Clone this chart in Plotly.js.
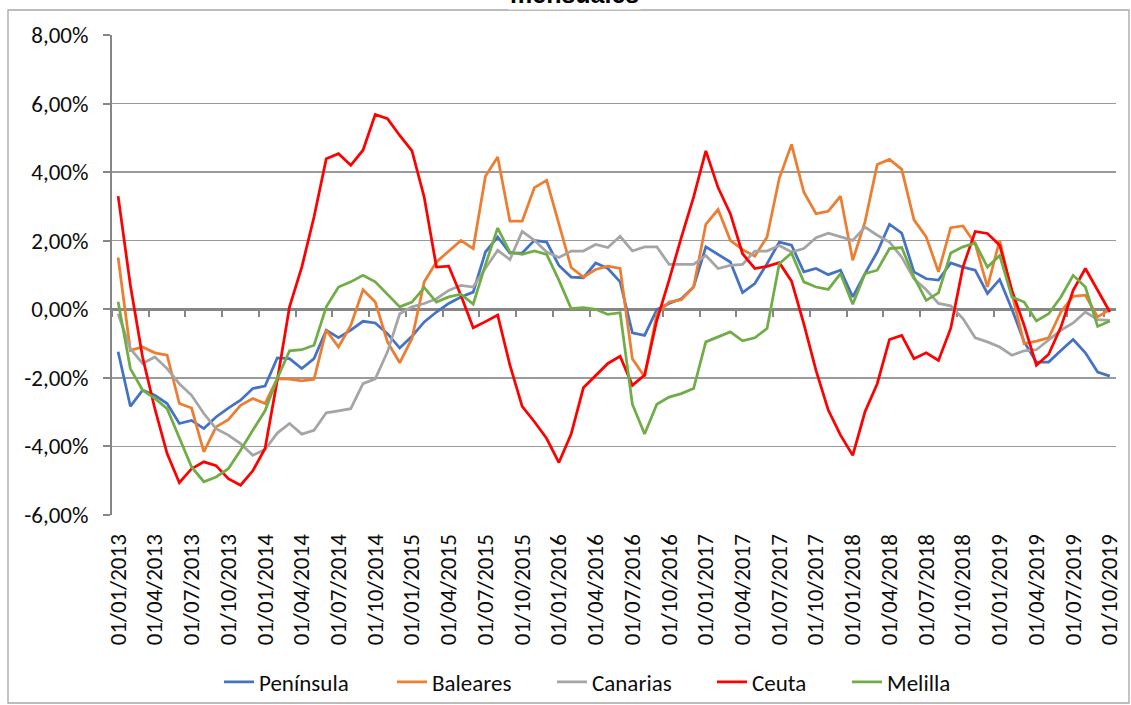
<!DOCTYPE html>
<html><head><meta charset="utf-8">
<script src="https://cdn.plot.ly/plotly-3.0.1.min.js"></script>
<style>html,body{margin:0;padding:0;background:#fff;overflow:hidden}#chart{width:1131px;height:705px;}</style>
</head><body><div id="chart"></div>
<script>
const categories = [
"01/01/2013","01/02/2013","01/03/2013","01/04/2013","01/05/2013","01/06/2013","01/07/2013","01/08/2013","01/09/2013","01/10/2013","01/11/2013","01/12/2013",
"01/01/2014","01/02/2014","01/03/2014","01/04/2014","01/05/2014","01/06/2014","01/07/2014","01/08/2014","01/09/2014","01/10/2014","01/11/2014","01/12/2014",
"01/01/2015","01/02/2015","01/03/2015","01/04/2015","01/05/2015","01/06/2015","01/07/2015","01/08/2015","01/09/2015","01/10/2015","01/11/2015","01/12/2015",
"01/01/2016","01/02/2016","01/03/2016","01/04/2016","01/05/2016","01/06/2016","01/07/2016","01/08/2016","01/09/2016","01/10/2016","01/11/2016","01/12/2016",
"01/01/2017","01/02/2017","01/03/2017","01/04/2017","01/05/2017","01/06/2017","01/07/2017","01/08/2017","01/09/2017","01/10/2017","01/11/2017","01/12/2017",
"01/01/2018","01/02/2018","01/03/2018","01/04/2018","01/05/2018","01/06/2018","01/07/2018","01/08/2018","01/09/2018","01/10/2018","01/11/2018","01/12/2018",
"01/01/2019","01/02/2019","01/03/2019","01/04/2019","01/05/2019","01/06/2019","01/07/2019","01/08/2019","01/09/2019","01/10/2019"];

const tickLabels = [
"01/01/2013","01/04/2013","01/07/2013","01/10/2013",
"01/01/2014","01/04/2014","01/07/2014","01/10/2014",
"01/01/2015","01/04/2015","01/07/2015","01/10/2015",
"01/01/2016","01/04/2016","01/07/2016","01/10/2016",
"01/01/2017","01/04/2017","01/07/2017","01/10/2017",
"01/01/2018","01/04/2018","01/07/2018","01/10/2018",
"01/01/2019","01/04/2019","01/07/2019","01/10/2019"];

const yTicks = [-6,-4,-2,0,2,4,6,8];
const yTickLabels = ["-6,00%","-4,00%","-2,00%","0,00%","2,00%","4,00%","6,00%","8,00%"];

const peninsula = [-1.24,-2.83,-2.36,-2.51,-2.75,-3.33,-3.24,-3.48,-3.14,-2.88,
-2.65,-2.31,-2.24,-1.42,-1.44,-1.73,-1.44,-0.61,-0.83,-0.61,
-0.35,-0.40,-0.71,-1.13,-0.79,-0.37,-0.08,0.17,0.36,0.50,
1.67,2.11,1.64,1.64,2.01,1.96,1.28,0.94,0.92,1.35,
1.19,0.80,-0.69,-0.76,-0.01,0.17,0.31,0.65,1.82,1.60,
1.38,0.49,0.75,1.33,1.96,1.87,1.09,1.19,1.01,1.14,
0.36,1.04,1.67,2.48,2.22,1.09,0.89,0.85,1.35,1.23,
1.14,0.46,0.87,0.00,-0.95,-1.54,-1.54,-1.20,-0.88,-1.27,
-1.83,-1.95];

const baleares = [1.51,-1.20,-1.10,-1.27,-1.34,-2.75,-2.88,-4.16,-3.43,-3.22,
-2.80,-2.60,-2.75,-2.02,-2.04,-2.09,-2.04,-0.61,-1.10,-0.47,
0.57,0.21,-0.95,-1.56,-0.85,0.80,1.38,1.70,2.01,1.77,
3.88,4.44,2.57,2.57,3.55,3.76,2.50,1.22,0.94,1.16,
1.26,1.19,-1.44,-1.97,-0.13,0.21,0.28,0.65,2.48,2.91,
2.01,1.74,1.55,2.11,3.82,4.81,3.42,2.79,2.86,3.30,
1.43,2.55,4.22,4.37,4.08,2.61,2.11,1.09,2.38,2.43,
1.91,0.65,2.01,0.45,-1.00,-0.93,-0.83,-0.08,0.38,0.41,
-0.22,-0.01];

const canarias = [-0.13,-1.15,-1.58,-1.39,-1.73,-2.17,-2.51,-3.04,-3.48,-3.67,
-3.92,-4.26,-4.09,-3.61,-3.33,-3.64,-3.53,-3.02,-2.96,-2.90,
-2.17,-2.03,-1.24,-0.13,0.07,0.17,0.31,0.55,0.70,0.65,
1.20,1.72,1.45,2.27,2.01,1.67,1.51,1.70,1.70,1.89,
1.80,2.13,1.70,1.82,1.82,1.31,1.31,1.31,1.57,1.19,
1.28,1.31,1.70,1.70,1.86,1.67,1.77,2.09,2.22,2.11,
2.01,2.40,2.16,1.96,1.52,0.89,0.57,0.17,0.10,-0.27,
-0.83,-0.95,-1.10,-1.34,-1.21,-1.18,-0.90,-0.61,-0.40,-0.08,
-0.30,-0.32];

const ceuta = [3.30,0.70,-1.40,-2.90,-4.21,-5.06,-4.65,-4.45,-4.56,-4.94,
-5.13,-4.71,-4.06,-2.07,0.07,1.23,2.69,4.39,4.54,4.20,
4.64,5.68,5.56,5.07,4.62,3.27,1.23,1.26,0.40,-0.54,
-0.36,-0.17,-1.63,-2.83,-3.28,-3.77,-4.47,-3.64,-2.29,-1.92,
-1.58,-1.37,-2.22,-1.92,-0.32,0.85,2.10,3.27,4.62,3.55,
2.79,1.62,1.19,1.25,1.36,0.82,-0.42,-1.78,-2.94,-3.67,
-4.26,-2.99,-2.17,-0.88,-0.76,-1.44,-1.27,-1.49,-0.56,1.23,
2.27,2.21,1.87,0.55,-0.47,-1.63,-1.31,-0.52,0.55,1.19,
0.55,-0.08];

const melilla = [0.22,-1.73,-2.36,-2.60,-2.90,-3.77,-4.60,-5.03,-4.89,-4.65,
-4.11,-3.53,-2.96,-2.02,-1.21,-1.18,-1.05,0.07,0.65,0.80,
0.99,0.80,0.44,0.07,0.21,0.63,0.21,0.36,0.44,0.15,
1.30,2.37,1.67,1.60,1.70,1.60,0.85,0.02,0.05,0.00,
-0.15,-0.10,-2.77,-3.64,-2.77,-2.56,-2.46,-2.31,-0.95,-0.81,
-0.66,-0.92,-0.83,-0.56,1.33,1.64,0.80,0.65,0.58,1.04,
0.15,1.04,1.14,1.77,1.80,0.94,0.26,0.48,1.64,1.82,
1.93,1.23,1.57,0.36,0.21,-0.34,-0.13,0.36,0.99,0.65,
-0.50,-0.34];

const seriesNames = ["Península","Baleares","Canarias","Ceuta","Melilla"];
const seriesValues = [peninsula, baleares, canarias, ceuta, melilla];
const seriesColors = ["#4472C4","#ED7D31","#A5A5A5","#FF0000","#70AD47"];

const FONT = 'Carlito, Lato, "Liberation Sans", sans-serif';
const FS = 23;
const AXIS_GREY = '#868686';
const TEXT = '#0d0d0d';

// legend box left edges (px) for each entry
const legendLeft = [219, 392, 552, 712, 847];
const legendIds = ['legend','legend2','legend3','legend4','legend5'];

const traces = seriesNames.map((n, k) => ({
  type: 'scatter', mode: 'lines', name: n,
  x: categories, y: seriesValues[k],
  line: {color: seriesColors[k], width: 2.75},
  legend: legendIds[k],
  hoverinfo: 'x+y+name'
}));
traces.push({type: 'scatter', mode: 'lines', x: [], y: [], xaxis: 'x2', showlegend: false, hoverinfo: 'skip'});

const nCat = categories.length;
const boundaryTicks = [];
for (let k = -0.5; k < nCat - 0.5; k += 3) boundaryTicks.push(k);

const layout = {
  width: 1131, height: 705,
  margin: {l: 112, r: 15, t: 35, b: 190, pad: 0, autoexpand: false},
  paper_bgcolor: '#ffffff', plot_bgcolor: '#ffffff',
  separators: ',.',
  font: {family: FONT, size: FS, color: TEXT},
  showlegend: true,
  xaxis: {
    type: 'category', range: [-0.5, nCat - 0.5], fixedrange: true, automargin: false,
    tickmode: 'array', tickvals: tickLabels, ticktext: tickLabels,
    tickangle: -90, ticks: 'outside', ticklen: 9, tickcolor: 'rgba(0,0,0,0)',
    showgrid: false, showline: false, zeroline: false,
    tickfont: {family: FONT, size: FS, color: TEXT}
  },
  xaxis2: {
    overlaying: 'x', anchor: 'free', position: 6 / 14, side: 'bottom',
    range: [-0.5, nCat - 0.5], fixedrange: true, automargin: false,
    tickmode: 'array', tickvals: boundaryTicks,
    ticks: 'outside', ticklen: 6, tickwidth: 2, tickcolor: AXIS_GREY,
    showline: true, linecolor: AXIS_GREY, linewidth: 2.5,
    showticklabels: false, showgrid: false, zeroline: false, layer: 'below traces'
  },
  yaxis: {
    range: [-6, 8], fixedrange: true, automargin: false,
    tickmode: 'array', tickvals: yTicks, ticktext: yTickLabels,
    showgrid: true, gridcolor: '#9a9a9a', gridwidth: 1.3,
    zeroline: false, showline: true, linecolor: AXIS_GREY, linewidth: 2,
    ticks: 'outside', ticklen: 7, tickwidth: 2, tickcolor: AXIS_GREY,
    ticklabelstandoff: 10,
    tickfont: {family: FONT, size: FS, color: TEXT}
  },
  shapes: [{
    type: 'rect', xref: 'paper', yref: 'paper',
    x0: (8 - 112) / 1004, x1: (1129 - 112) / 1004,
    y0: (515 - 703) / 480, y1: (515 - 10) / 480,
    line: {color: '#a6a6a6', width: 1.3}, fillcolor: 'rgba(0,0,0,0)', layer: 'above'
  }],
  annotations: [{
    text: '<b>mensuales</b>', xref: 'paper', yref: 'paper',
    x: 0.461, xanchor: 'center', y: (515 - 10) / 480, yanchor: 'bottom',
    showarrow: false, font: {family: '"Liberation Sans", Arial, sans-serif', size: 25, color: '#000000'},
    bgcolor: '#ffffff'
  }]
};

legendIds.forEach((id, k) => {
  layout[id] = {
    orientation: 'h', x: (legendLeft[k] - 112) / 1004, xanchor: 'left',
    y: (515 - 682) / 480, yanchor: 'middle',
    font: {family: FONT, size: FS, color: TEXT}, bgcolor: 'rgba(0,0,0,0)', borderwidth: 0
  };
});

Plotly.newPlot('chart', traces, layout, {displayModeBar: false, staticPlot: true});
</script>
</body></html>
